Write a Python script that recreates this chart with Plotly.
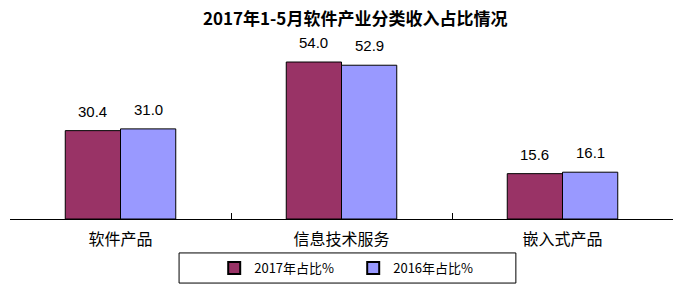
import plotly.graph_objects as go

categories = ["软件产品", "信息技术服务", "嵌入式产品"]
share_2017 = [30.4, 54.0, 15.6]
share_2016 = [31.0, 52.9, 16.1]
series_names = ["2017年占比%", "2016年占比%"]
title_text = "2017年1-5月软件产业分类收入占比情况"

font_cjk = "Noto Sans CJK SC"
num_font = "Liberation Sans, Arial"
fig = go.Figure()
fig.add_trace(go.Bar(
    x=categories, y=share_2017, name=series_names[0],
    marker=dict(color="#993366", line=dict(color="#000000", width=1)),
))
fig.add_trace(go.Bar(
    x=categories, y=share_2016, name=series_names[1],
    marker=dict(color="#9999FF", line=dict(color="#000000", width=1)),
))

# value labels, placed above each bar through the axes
annotations = []
for series, shift in ((share_2017, -27.6), (share_2016, 27.6)):
    for cat, v in zip(categories, series):
        annotations.append(dict(
            x=cat, y=v, xref="x", yref="y", text=f"{v:.1f}", showarrow=False,
            xanchor="center", yanchor="bottom", xshift=shift, yshift=9,
            font=dict(family=num_font, size=15, color="#000000"),
        ))

fig.update_layout(
    width=683, height=286,
    margin=dict(l=10, r=10, t=44, b=67, autoexpand=False),
    paper_bgcolor="white", plot_bgcolor="white",
    barmode="group", bargap=0.5, bargroupgap=0,
    title=dict(text=f"<b>{title_text}</b>", x=0.52, xanchor="center", y=0.934, yanchor="middle",
               font=dict(family=font_cjk, size=17, color="#000000")),
    font=dict(family=font_cjk, color="#000000"),
    showlegend=True,
    legend=dict(orientation="h", x=0.308, xanchor="left", y=-0.195, yanchor="top",
                borderwidth=0, bgcolor="rgba(0,0,0,0)",
                font=dict(family=font_cjk, size=13, color="#000000"),
                entrywidth=94, itemsizing="constant"),
    shapes=[dict(type="rect", xref="paper", yref="paper",
                 x0=0.255, x1=0.763, y0=-0.366, y1=-0.194,
                 line=dict(color="#000000", width=1), fillcolor="rgba(0,0,0,0)")],
    annotations=annotations,
)
fig.update_xaxes(
    type="category", showline=True, linecolor="#000000", linewidth=1,
    ticks="inside", tickson="boundaries", ticklen=6, tickcolor="#000000",
    tickfont=dict(family=font_cjk, size=16, color="#000000"),
    ticklabelstandoff=6,
    showgrid=False, mirror=False,
)
fig.update_yaxes(range=[0, 60.2], visible=False, showgrid=False)

fig.write_html("out.html")
